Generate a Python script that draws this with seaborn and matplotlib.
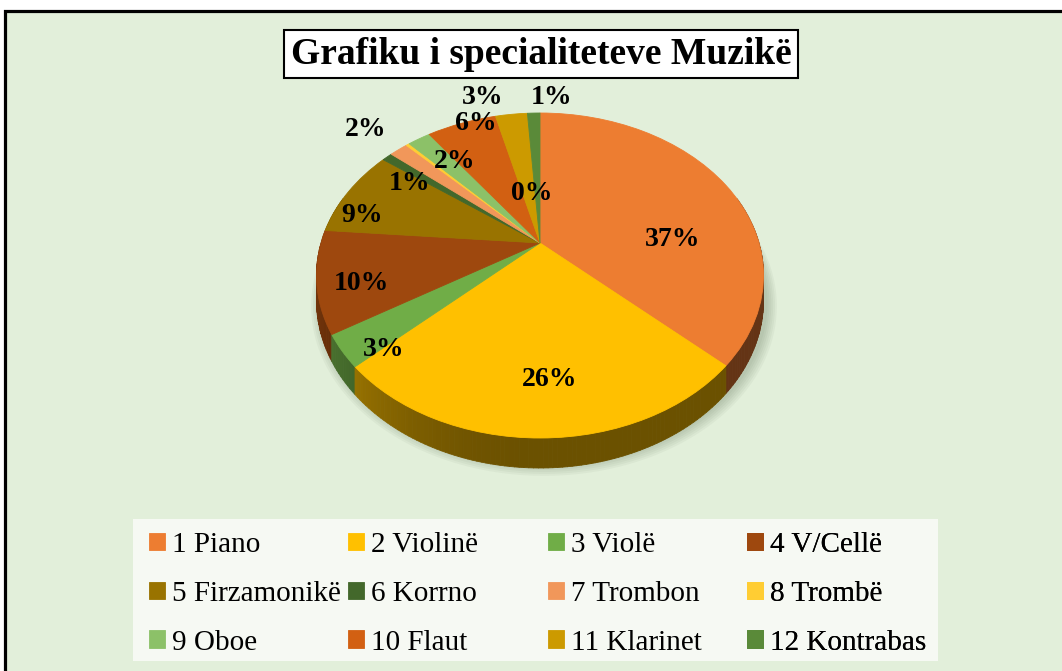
import matplotlib
matplotlib.use("Agg")
import matplotlib.pyplot as plt
import matplotlib.transforms as mtransforms
from matplotlib.collections import PolyCollection
from matplotlib.colors import to_rgb
from matplotlib.patches import Rectangle
import numpy as np
import seaborn as sns

# data
instruments = ['1 Piano', '2 Violinë', '3 Violë', '4 V/Cellë',
               '5 Firzamonikë', '6 Korrno', '7 Trombon', '8 Trombë',
               '9 Oboe', '10 Flaut', '11 Klarinet', '12 Kontrabas']
shares = [36.9, 26.1, 3.2, 10.1, 8.9, 0.9, 1.6, 0.3, 2.0, 6.1, 2.8, 1.1]
colors = ['#ED7D31', '#FFC000', '#70AD47', '#9E480E', '#997300', '#43682B',
          '#F1975A', '#FFCD33', '#8CC168', '#D26012', '#CC9A00', '#5A8A39']
title = 'Grafiku i specialiteteve Muzikë'

# layout (pixels)
label_xy = [(673, 240), (550, 379), (384, 350), (361, 284), (362, 216),
            (410, 183), (366, 130), (532, 194), (455, 161), (476, 124),
            (483, 98), (552, 97)]
CX, CY, RX, RY, K, DEPTH = 540, 243, 219, 156, 0.2, 24
BG = '#E2EFDA'

sns.set_style('white')
plt.rcParams['font.family'] = ['Liberation Serif', 'DejaVu Serif']
plt.rcParams['text.color'] = 'black'


def project(u, v):
    w = 1 + K * v
    return CX + RX * u / w, CY - RY * v / w


class Perspective(mtransforms.Transform):
    input_dims = output_dims = 2
    is_separable = False
    has_inverse = False

    def transform_non_affine(self, xy):
        xy = np.asarray(xy, dtype=float)
        x, y = project(xy[:, 0], xy[:, 1])
        return np.column_stack([x, y])


fig = plt.figure(figsize=(10.62, 6.71), dpi=100, facecolor='white')
ax = fig.add_axes([0, 0, 1, 1])

wedges, _ = ax.pie(shares, colors=colors, startangle=90, counterclock=False,
                   radius=1, center=(0, 0),
                   wedgeprops=dict(linewidth=0.6))
ax.set_aspect('auto')
ax.set_xlim(0, 1062)
ax.set_ylim(671, 0)
ax.axis('off')

persp = Perspective()
for w in wedges:
    w.set_transform(persp + ax.transData)
    w.set_edgecolor(w.get_facecolor())
    w.set_zorder(5)

# chart area
ax.add_patch(Rectangle((5, 11), 1100, 700, facecolor=BG, edgecolor='black',
                       linewidth=2.3, zorder=0))

# soft shadow under the pie
t = np.linspace(0, 2 * np.pi, 300)
for k in range(6):
    s = 1.0 + 0.008 * k
    sx, sy = project(s * np.cos(t), s * np.sin(t))
    ax.fill(sx + 4, sy + DEPTH + 4, color='#4d5e45', alpha=0.05,
            linewidth=0, zorder=1)

# side wall of the pie
quads, qcols, qdepth = [], [], []
for w, c in zip(wedges, colors):
    base = np.array(to_rgb(c))
    n = max(2, int(abs(w.theta2 - w.theta1)) + 1)
    ang = np.radians(np.linspace(w.theta1, w.theta2, n))
    for a0, a1 in zip(ang[:-1], ang[1:]):
        am = 0.5 * (a0 + a1)
        if np.sin(am) > 0.3:
            continue
        u0, v0, u1, v1 = np.cos(a0), np.sin(a0), np.cos(a1), np.sin(a1)
        x0, y0 = project(u0, v0)
        x1, y1 = project(u1, v1)
        d0, d1 = DEPTH / (1 + K * v0), DEPTH / (1 + K * v1)
        quads.append([(x0, y0), (x1, y1), (x1, y1 + d1), (x0, y0 + d0)])
        shade = 0.42 + 0.32 * np.clip(-np.cos(am), 0, 1) ** 2
        qcols.append(base * shade)
        qdepth.append(np.sin(am))
order = np.argsort(qdepth)[::-1]
side = PolyCollection([quads[i] for i in order],
                      facecolors=[qcols[i] for i in order],
                      edgecolors=[qcols[i] for i in order],
                      linewidths=0.6, zorder=3)
ax.add_collection(side)

# percentage labels
for s, (lx, ly) in zip(shares, label_xy):
    ax.text(lx, ly, f'{round(s):.0f}%', ha='center', va='center',
            fontsize=20, fontweight='bold', color='black', zorder=8)

# title
ax.text(541, 54, title, ha='center', va='center', fontsize=27,
        fontweight='bold', color='black', zorder=8,
        bbox=dict(boxstyle='square,pad=0.17', facecolor='white',
                  edgecolor='black', linewidth=1.5))

# legend
ax.add_patch(Rectangle((133, 519), 805, 142, facecolor='#F6F9F3',
                       edgecolor='none', zorder=6))
col_x = [149, 348, 548, 747]
for ci, x in enumerate(col_x):
    idx = [ci, ci + 4, ci + 8]
    leg = ax.legend([wedges[i] for i in idx], [instruments[i] for i in idx],
                    loc='upper left', bbox_to_anchor=(x, 532),
                    bbox_transform=ax.transData, frameon=False,
                    fontsize=21, borderpad=0, borderaxespad=0,
                    handlelength=0.55, handleheight=0.55,
                    handletextpad=0.25, labelspacing=0.78,
                    labelcolor='black')
    leg.set_zorder(7)
    ax.add_artist(leg)

fig.savefig('out.png', dpi=100, facecolor='white')
